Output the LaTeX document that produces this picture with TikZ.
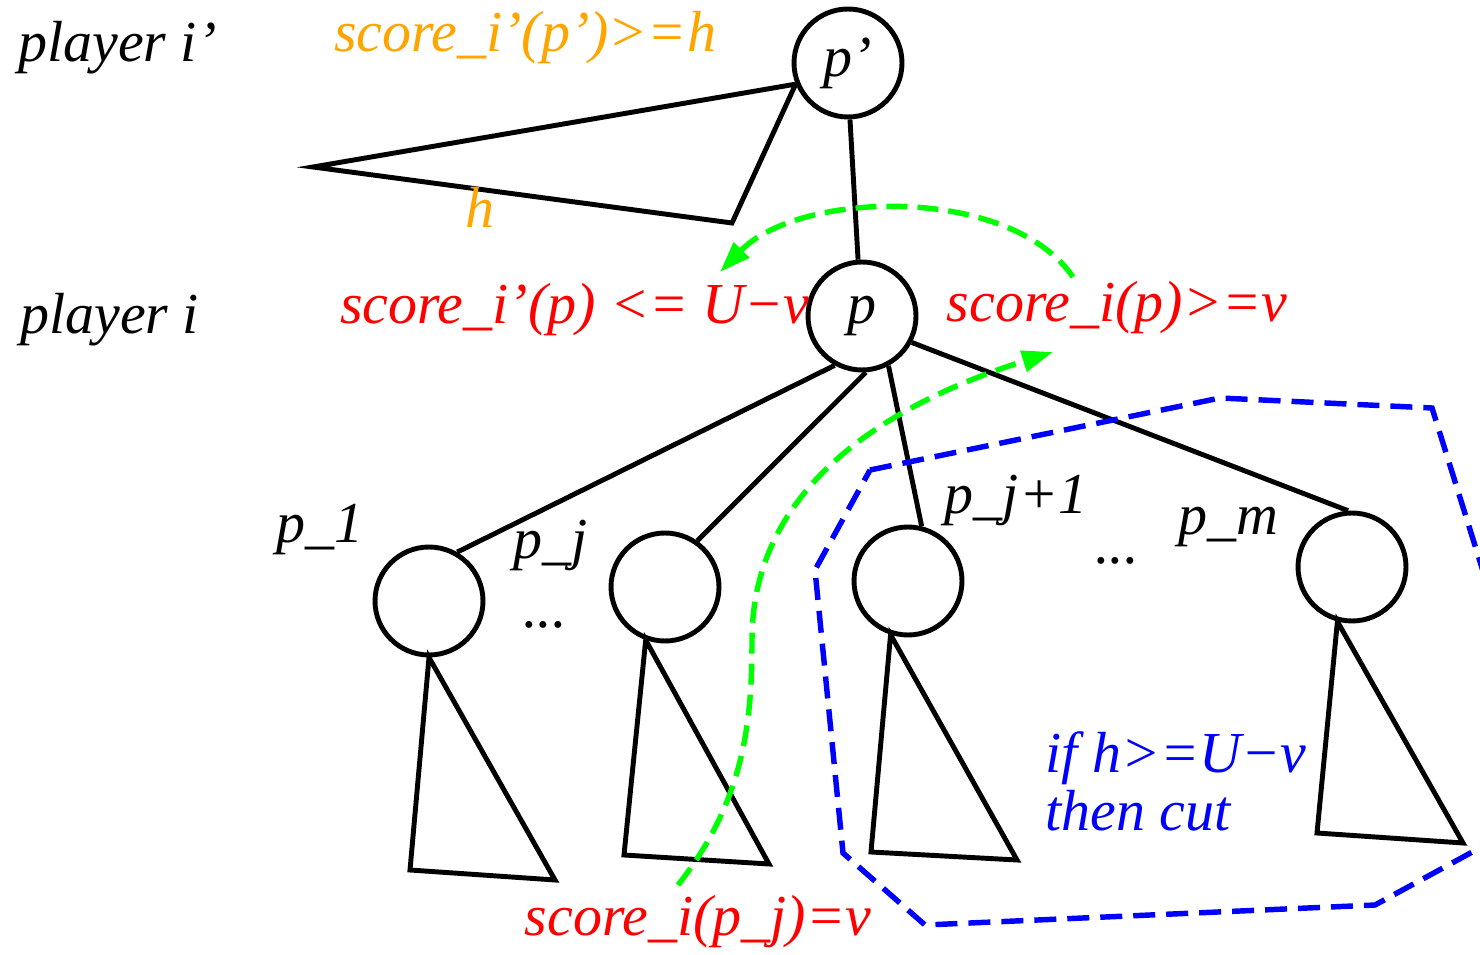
\documentclass[tikz,border=0pt]{standalone}
\usepackage{fontspec}
\setmainfont{Liberation Serif}[ItalicFont={Liberation Serif Italic}]
\usetikzlibrary{arrows.meta}
\definecolor{forange}{RGB}{255,165,0}
\definecolor{fred}{RGB}{255,0,0}
\definecolor{fblue}{RGB}{0,0,255}
\definecolor{fgreen}{RGB}{0,255,0}
\begin{document}
\begin{tikzpicture}[x=0.02cm,y=-0.02cm,
  font=\fontsize{33}{33}\selectfont\itshape,
  circ/.style={circle,draw,line width=2.8pt,minimum size=2.16cm,inner sep=0pt},
  edge/.style={line width=2.8pt,line join=miter},
  lbl/.style={inner sep=0pt},
  gpath/.style={draw=fgreen,line width=3.1pt,dash pattern=on 0.42cm off 0.2cm,
    -{Triangle[length=0.62cm,width=0.42cm]}},
  bpath/.style={draw=fblue,line width=3.1pt,dash pattern=on 0.44cm off 0.22cm,line join=miter}]
\useasboundingbox (0,0) rectangle (1480,955);
\clip (0,0) rectangle (1480,955);

% tree nodes
\node[circ] (pp) at (848,63) {p’};
\node[circ] (p)  at (862,316) {p};
\node[circ] (p1) at (429,601) {};
\node[circ] (pj) at (665,587) {};
\node[circ] (pj1) at (908,581) {};
\node[circ] (pm) at (1352,567) {};

% edges
\draw[edge] (pp.272) -- (p.94);
\draw[edge] (p.241) -- (p1.60);
\draw[edge] (p.274) -- (pj.55);
\draw[edge] (p.298) -- (pj1.76);
\draw[edge] (p.332) -- (pm.94);

% subtrees
\draw[edge] (pp.202) -- (313,167) -- (732,223) -- cycle;
\draw[edge] (p1.270) -- (410,870) -- (555,880) -- cycle;
\draw[edge] (pj.250) -- (624,855) -- (769,864) -- cycle;
\draw[edge] (pj1.252) -- (871,852) -- (1017,860) -- cycle;
\draw[edge] (pm.255) -- (1317,833) -- (1463,843) -- cycle;

% labels
\node[lbl,anchor=west] (lpi1) at (18,48) {player i’};
\node[lbl,anchor=west] (lpi) at (20,320) {player i};
\node[lbl,text=forange] (lsc1) at (525,38) {score\_i’(p’)>=h};
\node[lbl,text=forange] (lh) at (480,207) {h};
\node[lbl,text=fred] (lsc2) at (575,310) {score\_i’(p) <= U−v};
\node[lbl,text=fred] (lsc3) at (1117,308) {score\_i(p)>=v};
\node[lbl,text=fred] (lsc4) at (698,922) {score\_i(p\_j)=v};
\node[lbl] (l1) at (320,530) {p\_1};
\node[lbl] (lj) at (551,545) {p\_j};
\node[lbl] (lj1) at (1016,500) {p\_j+1};
\node[lbl] (lm) at (1228,527) {p\_m};
\node[lbl] (d1) at (545,625) {...};
\node[lbl] (d2) at (1117,561) {...};
\node[lbl,text=fblue,align=left,anchor=west] (lcut) at (1045,781) {if h>=U−v\\then cut};

% green arrows
\coordinate (g1s) at (1073,277);
\coordinate (g1e) at (720,272);
\draw[gpath] (g1s) .. controls (1010,185) and (800,190) .. (g1e);
\coordinate (g2s) at (678,885);
\coordinate (g2m) at (752,640);
\coordinate (g2e) at (1053,352);
\draw[gpath] (g2s) .. controls (745,800) and (752,720) .. (g2m)
  .. controls (752,480) and (900,400) .. (g2e);

% blue cut region
\draw[bpath] (870,470) -- (1220,398) -- (1432,408) -- (1517,680) -- (1520,826)
  -- (1375,905) -- (925,925) -- (843,853) -- (815,570) -- cycle;
\end{tikzpicture}
\end{document}
